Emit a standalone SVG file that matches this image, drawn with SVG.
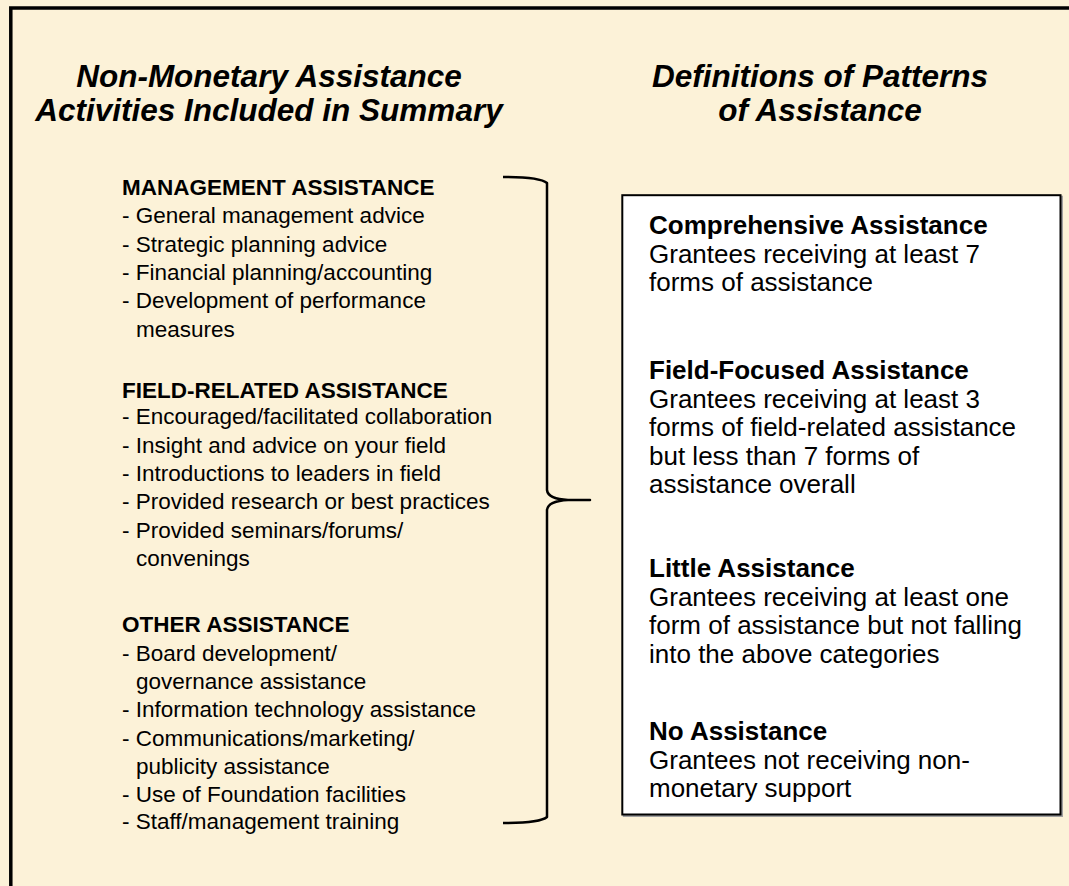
<svg xmlns="http://www.w3.org/2000/svg" width="1069" height="886" viewBox="0 0 1069 886">
<style>
.title{font-family:"Liberation Sans",Arial,sans-serif;font-size:31.5px;font-weight:bold;font-style:italic;fill:#000;text-anchor:middle}
.lt{font-family:"Liberation Sans",Arial,sans-serif;font-size:22.5px;fill:#000}
.rt{font-family:"Liberation Sans",Arial,sans-serif;font-size:26px;fill:#000}
.b{font-weight:bold}
</style>
<rect x="0" y="0" width="1069" height="886" fill="#FCF2D8"/>
<rect x="10.8" y="8" width="1100" height="900" fill="none" stroke="#000" stroke-width="3.5"/>
<g id="titles">
<text class="title" x="269" y="87">Non-Monetary Assistance</text>
<text class="title" x="269" y="120.5">Activities Included in Summary</text>
<text class="title" x="820" y="87">Definitions of Patterns</text>
<text class="title" x="820" y="120.5">of Assistance</text>
</g>
<g id="activities">
<text class="lt b" x="122" y="195">MANAGEMENT ASSISTANCE</text>
<text class="lt" x="122" y="223">- General management advice</text>
<text class="lt" x="122" y="251.5">- Strategic planning advice</text>
<text class="lt" x="122" y="280">- Financial planning/accounting</text>
<text class="lt" x="122" y="308">- Development of performance</text>
<text class="lt" x="136" y="336.5">measures</text>
<text class="lt b" x="122" y="398">FIELD-RELATED ASSISTANCE</text>
<text class="lt" x="122" y="424">- Encouraged/facilitated collaboration</text>
<text class="lt" x="122" y="452.5">- Insight and advice on your field</text>
<text class="lt" x="122" y="481">- Introductions to leaders in field</text>
<text class="lt" x="122" y="509">- Provided research or best practices</text>
<text class="lt" x="122" y="537.5">- Provided seminars/forums/</text>
<text class="lt" x="136" y="566">convenings</text>
<text class="lt b" x="122" y="632">OTHER ASSISTANCE</text>
<text class="lt" x="122" y="660.5">- Board development/</text>
<text class="lt" x="136" y="689">governance assistance</text>
<text class="lt" x="122" y="717">- Information technology assistance</text>
<text class="lt" x="122" y="745.5">- Communications/marketing/</text>
<text class="lt" x="136" y="774">publicity assistance</text>
<text class="lt" x="122" y="802">- Use of Foundation facilities</text>
<text class="lt" x="122" y="829">- Staff/management training</text>
</g>
<g id="connectors">
<path d="M503,177 Q540,177 547,183 L547,490 Q548,499 568,500 L590,500 L568,500 Q548,501 547,510 L547,817 Q540,823 503,823" fill="none" stroke="#000" stroke-width="2.5" stroke-linejoin="round"/>
</g>
<g id="definitions">
<rect x="623.8" y="196.7" width="438.2" height="619.3" fill="none" stroke="#A0A0A0" stroke-width="2"/>
<rect x="622.3" y="195.2" width="438.2" height="619.3" fill="#fff" stroke="#000" stroke-width="2"/>
<text class="rt b" x="649" y="234">Comprehensive Assistance</text>
<text class="rt" x="649" y="263">Grantees receiving at least 7</text>
<text class="rt" x="649" y="291">forms of assistance</text>
<text class="rt b" x="649" y="379">Field-Focused Assistance</text>
<text class="rt" x="649" y="407.5">Grantees receiving at least 3</text>
<text class="rt" x="649" y="436">forms of field-related assistance</text>
<text class="rt" x="649" y="464.5">but less than 7 forms of</text>
<text class="rt" x="649" y="493">assistance overall</text>
<text class="rt b" x="649" y="577">Little Assistance</text>
<text class="rt" x="649" y="605.5">Grantees receiving at least one</text>
<text class="rt" x="649" y="634">form of assistance but not falling</text>
<text class="rt" x="649" y="662.5">into the above categories</text>
<text class="rt b" x="649" y="740">No Assistance</text>
<text class="rt" x="649" y="768.5">Grantees not receiving non-</text>
<text class="rt" x="649" y="797">monetary support</text>
</g>
</svg>
